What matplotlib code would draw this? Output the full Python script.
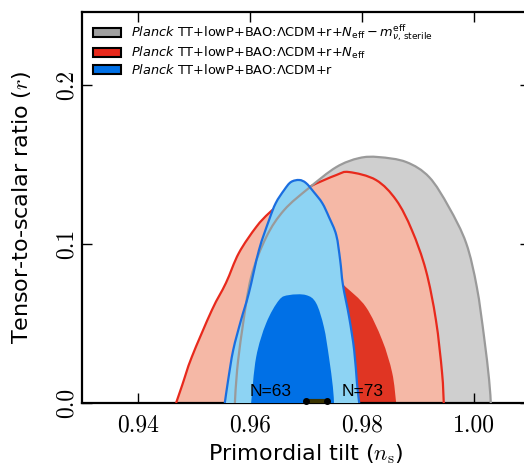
import matplotlib
matplotlib.use('Agg')
import matplotlib.pyplot as plt
from matplotlib.patches import Patch, PathPatch
from matplotlib.path import Path
from matplotlib.font_manager import FontProperties

plt.rcParams['mathtext.fontset'] = 'cm'

# contour outlines (n_s, r)
gray_ns = [0.9573, 0.9577, 0.9586, 0.9602, 0.9629, 0.9661, 0.9705, 0.9754, 0.9795,
           0.9830, 0.9879, 0.9920, 0.9955, 0.9986, 1.0005, 1.0018, 1.0027, 1.0030]
gray_r = [0.0, 0.0208, 0.0459, 0.0792, 0.1044, 0.1214, 0.1352, 0.1484, 0.1541,
          0.1547, 0.1516, 0.1421, 0.1233, 0.1006, 0.0730, 0.0415, 0.0145, 0.0]

red95_ns = [0.9468, 0.9479, 0.9496, 0.9532, 0.9557, 0.9580, 0.9611, 0.9634, 0.9657, 0.9705,
            0.9754, 0.9777, 0.9825, 0.9861, 0.9889, 0.9914, 0.9932, 0.9943, 0.9946]
red95_r = [0.0, 0.0113, 0.0289, 0.0585, 0.0755, 0.0943, 0.1107, 0.1195, 0.1258, 0.1358,
           0.1434, 0.1453, 0.1403, 0.1277, 0.1088, 0.0836, 0.0522, 0.0189, 0.0]

red68_ns = [0.9607, 0.9613, 0.9625, 0.9652, 0.9688, 0.9723, 0.9759, 0.9771,
            0.9807, 0.9836, 0.9854, 0.9861]
red68_r = [0.0, 0.027, 0.0522, 0.0692, 0.0774, 0.0786, 0.0761, 0.0730,
           0.0604, 0.0396, 0.0189, 0.0]

blue95_ns = [0.9555, 0.9561, 0.9570, 0.9584, 0.9598, 0.9616, 0.9634, 0.9646, 0.9661, 0.9673, 0.9688,
             0.9700, 0.9714, 0.9729, 0.9741, 0.9754, 0.9761, 0.9766, 0.9777, 0.9786, 0.9791, 0.9795]
blue95_r = [0.0, 0.0145, 0.0333, 0.0522, 0.0692, 0.0962, 0.1151, 0.1258, 0.1340, 0.1390, 0.1403,
            0.1384, 0.1327, 0.1258, 0.1170, 0.1057, 0.0899, 0.0742, 0.0541, 0.0333, 0.0126, 0.0]

blue68_ns = [0.9602, 0.9611, 0.9629, 0.9652, 0.9670, 0.9700, 0.9718, 0.9732, 0.9741, 0.9748, 0.9750]
blue68_r = [0.0, 0.0289, 0.0503, 0.0648, 0.0679, 0.0679, 0.0629, 0.0478, 0.0289, 0.0101, 0.0]

n_ns = [0.9700, 0.97375]
n_labels = ['N=63', 'N=73']
n_label_x = [0.9636, 0.9802]

xticks = [0.94, 0.96, 0.98, 1.00]
yticks = [0.0, 0.1, 0.2]

labels = [r'$\it{Planck}$ TT+lowP+BAO:ΛCDM+r+$N_{\rm eff}-m_{\nu,\,{\rm sterile}}^{\rm eff}$',
          r'$\it{Planck}$ TT+lowP+BAO:ΛCDM+r+$N_{\rm eff}$',
          r'$\it{Planck}$ TT+lowP+BAO:ΛCDM+r']


def smooth_path(xs, ys, closed=True):
    # Catmull-Rom through the read points, drawn as cubic Bezier segments
    pts = list(zip(xs, ys))
    verts = [pts[0]]
    codes = [Path.MOVETO]
    n = len(pts)
    for i in range(n - 1):
        p0 = pts[max(i - 1, 0)]
        p1 = pts[i]
        p2 = pts[i + 1]
        p3 = pts[min(i + 2, n - 1)]
        c1 = (p1[0] + (p2[0] - p0[0]) / 6, p1[1] + (p2[1] - p0[1]) / 6)
        c2 = (p2[0] - (p3[0] - p1[0]) / 6, p2[1] - (p3[1] - p1[1]) / 6)
        verts += [c1, c2, p2]
        codes += [Path.CURVE4] * 3
    if closed:
        verts.append(pts[0])
        codes.append(Path.LINETO)
    return Path(verts, codes)


def region(ax, xs, ys, face, z):
    ax.add_patch(PathPatch(smooth_path(xs, ys), facecolor=face, lw=0, zorder=z))


def outline(ax, xs, ys, col, z):
    ax.add_patch(PathPatch(smooth_path(xs, ys, closed=False), fill=False,
                           edgecolor=col, lw=1.6, zorder=z))


fig = plt.figure(figsize=(5.24, 4.67), dpi=100)
ax = fig.add_axes([82 / 524, 64 / 467, 448 / 524, 391 / 467])

region(ax, gray_ns, gray_r, '#cfcfcf', 1)
region(ax, red95_ns, red95_r, '#f5b8a6', 2)
region(ax, red68_ns, red68_r, '#e03523', 2)
outline(ax, red95_ns, red95_r, '#e8291c', 3)
region(ax, blue95_ns, blue95_r, '#8dd3f3', 4)
region(ax, blue68_ns, blue68_r, '#0070e6', 4)
outline(ax, gray_ns, gray_r, '#9a9a9a', 5)
outline(ax, blue95_ns, blue95_r, '#1a6ee0', 6)

ax.plot(n_ns, [0.0015, 0.0015], color='#3a3300', lw=3, marker='o', ms=4,
        mfc='black', mec='black', zorder=8, clip_on=False)
for x, s in zip(n_label_x, n_labels):
    ax.text(x, 0.0025, s, ha='center', va='bottom', fontsize=12.5,
            family='Liberation Sans', zorder=9)

ax.set_xlim(0.93, 1.01)
ax.set_ylim(0, 0.246)
ax.set_xticks(xticks)
ax.set_xticklabels(['%.2f' % v for v in xticks], fontsize=17, family='cmr10')
ax.set_yticks(yticks)
ax.set_yticklabels(['%.1f' % v for v in yticks], fontsize=17, family='cmr10',
                   rotation=90, va='center')
ax.tick_params(direction='in', length=7, width=1, top=True, right=True)
ax.tick_params(axis='x', pad=8)
ax.tick_params(axis='y', pad=3)
for sp in ax.spines.values():
    sp.set_linewidth(1.6)

ax.set_xlabel(r'Primordial tilt ($n_{\rm s}$)', fontsize=16, labelpad=4)
ax.set_ylabel(r'Tensor-to-scalar ratio ($r$)', fontsize=16, labelpad=16)

handles = [Patch(facecolor='#a0a0a0', edgecolor='black', lw=1.5),
           Patch(facecolor='#e8291c', edgecolor='black', lw=1.5),
           Patch(facecolor='#0070e6', edgecolor='black', lw=1.5)]
ax.legend(handles, labels, loc='upper left', bbox_to_anchor=(-0.002, 1.003), frameon=False,
          prop=FontProperties(family='DejaVu Sans', size=9.3, math_fontfamily='dejavusans'),
          handlelength=2.2, handleheight=0.7, labelspacing=0.15, handletextpad=0.8)

fig.savefig('out.png', dpi=100)
